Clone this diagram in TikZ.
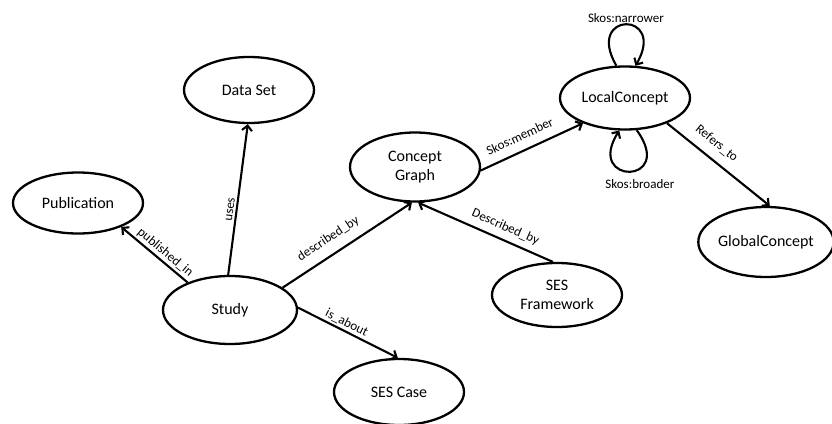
\documentclass[tikz,border=0pt]{standalone}
\usepackage{fontspec}
\setmainfont{Carlito}
\usetikzlibrary{shapes.geometric}
\usetikzlibrary{arrows.meta}
\tikzstyle{concept}=[draw, ellipse, line width=2.3pt, inner sep=0, minimum width=130pt, minimum height=66pt,
                     align=center, font=\fontsize{16}{19}\selectfont]
\tikzstyle{relation}=[line width=2.1pt, -{Straight Barb[length=5pt,width=10pt]}]
\tikzstyle{relationlabel}=[sloped, above, inner sep=2pt, font=\fontsize{13}{15}\selectfont]
\tikzstyle{ontology}=[x=1pt, y=-1pt,
                      % Keep the page the size of the original picture.
                      execute at begin picture={\useasboundingbox (0,0) rectangle (832,423);}]

\begin{document}
\begin{tikzpicture}[ontology]
        \node[concept]                                  (DS)   at (249, 90)  {Data Set};
        \node[concept, minimum height=61pt]             (Pub)  at (78, 203)  {Publication};
        \node[concept, minimum width=134pt, minimum height=68pt] (Study) at (230, 310) {Study};
        \node[concept, minimum height=69pt]             (CG)   at (415, 167) {Concept\\Graph};
        \node[concept, minimum height=63pt]             (LC)   at (625, 98)  {LocalConcept};
        \node[concept, minimum height=70pt]             (GC)   at (766, 242) {GlobalConcept};
        \node[concept, minimum height=64pt]             (SESF) at (557, 295) {SES\\Framework};
        \node[concept]                                  (SESC) at (399, 392) {SES Case};
        \draw[relation] (Study.147) -- node[relationlabel, pos=0.42] {published\_in} (Pub.-29);
        \draw[relation] (Study.93) -- node[relationlabel, pos=0.43] {uses} (DS.-92);
        \draw[relation] (Study.23) -- node[relationlabel, pos=0.42, above=7pt] {described\_by} (CG.-95);
        \draw[relation] (Study.2) -- node[relationlabel, pos=0.45] {is\_about} (SESC.92);
        \draw[relation] (SESF.97) -- node[relationlabel, pos=0.39, above=4pt] {Described\_by} (CG.-85);
        \draw[relation] (CG.-3) -- node[relationlabel, pos=0.44, above=7pt] {Skos:member} (LC.-149);
        \draw[relation] (LC.-31) -- node[relationlabel, pos=0.39, above=7pt] {Refers\_to} (GC.84);
        \draw[relation] (LC.105) .. controls +(-32,-55) and +(32,-55) .. node[above, inner sep=1pt, font=\fontsize{13}{15}\selectfont] {Skos:narrower} (LC.72);
        \draw[relation] (LC.-70) .. controls +(40,55) and +(-35,55) .. node[below=5pt, xshift=10pt, inner sep=2pt, font=\fontsize{13}{15}\selectfont] {Skos:broader} (LC.-100);
    \end{tikzpicture}
\end{document}
